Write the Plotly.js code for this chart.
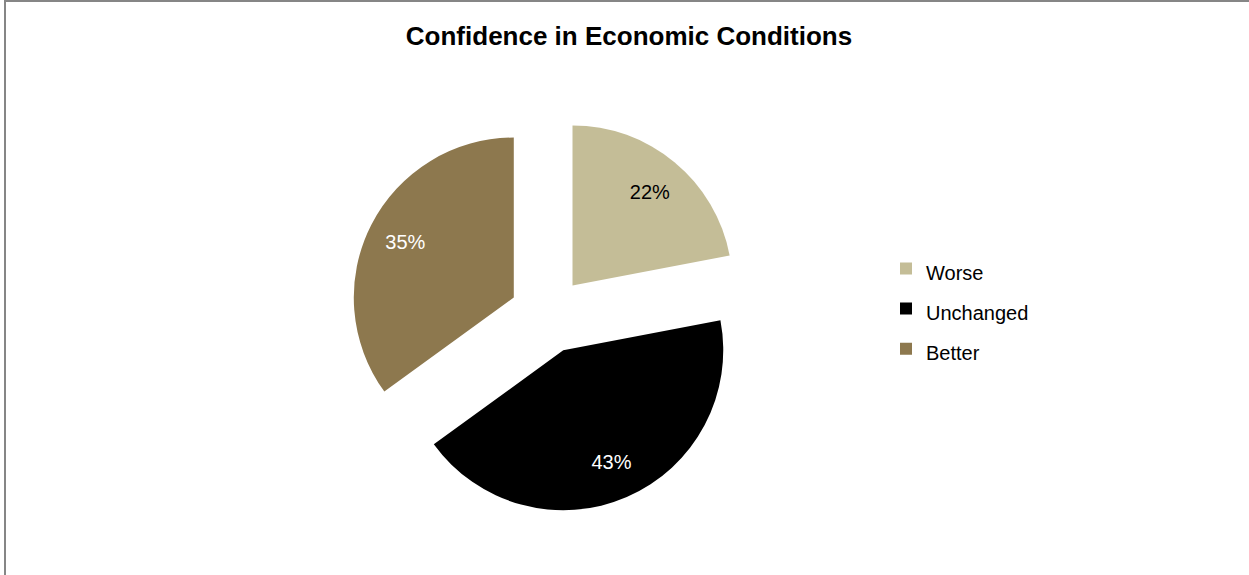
<!DOCTYPE html>
<html>
<head>
<meta charset="utf-8">
<script src="https://cdn.plot.ly/plotly-3.0.1.min.js"></script>
<style>
  html, body { margin: 0; padding: 0; background: #ffffff; }
  #chart { width: 1249px; height: 575px; }
</style>
</head>
<body>
<div id="chart"></div>
<script>
var categories = ['Worse', 'Unchanged', 'Better'];
var shares = [22, 43, 35];
var sliceColors = ['#C4BD97', '#000000', '#8D784E'];
var labelColors = ['#000000', '#ffffff', '#ffffff'];
var chartTitle = 'Confidence in Economic Conditions';

var W = 1249, H = 575;
var FONT = '"Liberation Sans", Arial, Helvetica, sans-serif';
var DOMAIN = { x: [348 / W, 748 / W], y: [1 - 513.4 / H, 1 - 116.6 / H] };
var PULL = [0.24, 0.24, 0.24];

// Slices (with legend)
var slices = {
  type: 'pie',
  labels: categories.map(function (c) { return '<span style="font-size:20px">' + c + '</span>'; }),
  values: shares,
  sort: false,
  direction: 'clockwise',
  rotation: 0,
  pull: PULL,
  marker: { colors: sliceColors, line: { width: 0 } },
  textinfo: 'none',
  hoverinfo: 'label+percent',
  domain: DOMAIN,
  showlegend: true
};

// Same pie, transparent, with a hole so the percentage labels sit further out
var labelsRing = {
  type: 'pie',
  labels: categories.map(function (c) { return '<span style="font-size:20px">' + c + '</span>'; }),
  values: shares,
  sort: false,
  direction: 'clockwise',
  rotation: 0,
  pull: PULL,
  hole: 0.52,
  marker: { colors: ['rgba(0,0,0,0)', 'rgba(0,0,0,0)', 'rgba(0,0,0,0)'], line: { width: 0 } },
  textinfo: 'percent',
  texttemplate: '%{percent:.0%}',
  textposition: 'inside',
  insidetextorientation: 'horizontal',
  textfont: { family: FONT, size: 20, color: labelColors },
  hoverinfo: 'skip',
  domain: DOMAIN,
  showlegend: false
};

var layout = {
  width: W,
  height: H,
  margin: { l: 0, r: 0, t: 0, b: 0 },
  paper_bgcolor: '#ffffff',
  plot_bgcolor: '#ffffff',
  font: { family: FONT, color: '#000000' },
  title: {
    text: '<b>' + chartTitle + '</b>',
    font: { family: FONT, size: 26, color: '#000000' },
    x: 629 / W,
    xanchor: 'center',
    y: 1 - 36 / H,
    yanchor: 'middle'
  },
  legend: {
    x: (926 - 40) / W,
    xanchor: 'left',
    y: 1 - 309 / H,
    yanchor: 'middle',
    font: { family: FONT, size: 28.5, color: '#000000' },
    bgcolor: 'rgba(0,0,0,0)',
    borderwidth: 0,
    itemclick: false
  },
  shapes: [
    { type: 'line', xref: 'paper', yref: 'paper', x0: 5 / W, x1: 5 / W, y0: 1 - 1 / H, y1: -0.1,
      line: { color: '#868686', width: 2 } },
    { type: 'line', xref: 'paper', yref: 'paper', x0: 4 / W, x1: 1.1, y0: 1 - 1 / H, y1: 1 - 1 / H,
      line: { color: '#868686', width: 2 } }
  ]
};

Plotly.newPlot('chart', [slices, labelsRing], layout, { staticPlot: true, displayModeBar: false });
</script>
</body>
</html>
